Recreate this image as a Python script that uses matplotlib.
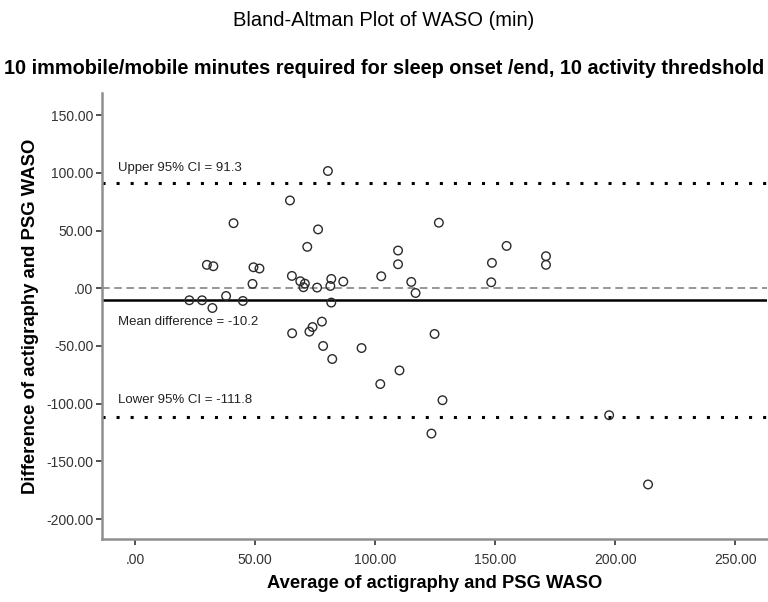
import matplotlib
matplotlib.use("Agg")
import matplotlib.pyplot as plt
from matplotlib.ticker import FuncFormatter

plt.rcParams["font.family"] = ["Liberation Sans", "DejaVu Sans"]

# ── data ──────────────────────────────────────────────────────────────────────
avg_waso = [80.3, 64.5, 41.0, 126.5, 76.2, 71.7, 109.5, 109.5, 29.9, 32.6,
            49.3, 51.8, 65.3, 102.5, 48.9, 68.8, 70.7, 70.1, 75.8, 81.7,
            81.3, 86.7, 115.0, 116.8, 37.9, 22.6, 27.9, 44.9, 32.2, 81.7,
            154.7, 148.6, 171.1, 171.1, 148.3, 65.4, 72.6, 73.9, 77.8, 78.3,
            82.1, 94.3, 110.1, 102.1, 124.7, 128.0, 123.4, 197.4, 213.6]
diff_waso = [101.6, 76.1, 56.4, 56.8, 51.0, 35.9, 32.7, 20.8, 20.3, 19.1,
             18.2, 17.1, 10.7, 10.4, 3.8, 6.1, 4.0, 0.9, 0.6, 8.1,
             2.0, 5.8, 5.5, -4.1, -6.7, -10.4, -10.4, -11.0, -17.1, -12.4,
             36.7, 22.0, 27.8, 20.3, 5.2, -39.0, -37.6, -33.6, -28.9, -50.0,
             -61.3, -51.8, -71.2, -83.0, -39.6, -97.0, -125.9, -110.0, -170.0]

mean_diff = -10.2
upper_ci = 91.3
lower_ci = -111.8

x_ticks = [0, 50, 100, 150, 200, 250]
y_ticks = [150, 100, 50, 0, -50, -100, -150, -200]

title = "Bland-Altman Plot of WASO (min)"
subtitle = "10 immobile/mobile minutes required for sleep onset /end, 10 activity thredshold"


def spss_fmt(v, _pos=None):
    # SPSS style: 0.00 -> .00
    s = f"{v:.2f}"
    if s.startswith("0."):
        s = s[1:]
    return s


fig = plt.figure(figsize=(7.68, 6.02), dpi=100)
ax = fig.add_axes([0.1324, 0.1042, 0.8659, 0.7413])

ax.scatter(avg_waso, diff_waso, s=38, facecolors="none", edgecolors="#2b2b2b",
           linewidths=1.0, zorder=3)

ax.axhline(upper_ci, color="black", lw=2.2, ls=(0, (1, 3.6)), zorder=2)
ax.axhline(lower_ci, color="black", lw=2.2, ls=(0, (1, 3.6)), zorder=2)
ax.axhline(0, color="#7a7a7a", lw=1.1, ls=(0, (5, 3)), zorder=2)
ax.axhline(mean_diff, color="black", lw=1.8, zorder=2)

lab = dict(fontsize=9.5, color="#222222", va="center", ha="left")
ax.annotate(f"Upper 95% CI = {upper_ci}", xy=(-7, upper_ci),
            xytext=(0, 10.5), textcoords="offset points", **lab)
ax.annotate(f"Mean difference = {mean_diff}", xy=(-7, mean_diff),
            xytext=(0, -16), textcoords="offset points", **lab)
ax.annotate(f"Lower 95% CI = {lower_ci}", xy=(-7, lower_ci),
            xytext=(0, 12.5), textcoords="offset points", **lab)

ax.set_xlim(-13.9, 263)
ax.set_ylim(-217.5, 169.2)
ax.set_xticks(x_ticks)
ax.set_yticks(y_ticks)
ax.xaxis.set_major_formatter(FuncFormatter(spss_fmt))
ax.yaxis.set_major_formatter(FuncFormatter(spss_fmt))
ax.tick_params(axis="both", direction="out", length=4, width=1.2,
               color="#333333", labelsize=10, labelcolor="#333333")
ax.tick_params(axis="x", pad=6)
ax.tick_params(axis="y", pad=2)

for side in ("top", "right"):
    ax.spines[side].set_visible(False)
for side in ("left", "bottom"):
    ax.spines[side].set_color("#8f8f8f")
    ax.spines[side].set_linewidth(1.8)

ax.set_xlabel("Average of actigraphy and PSG WASO", fontsize=13.2,
              fontweight="bold", labelpad=6)
ax.set_ylabel("Difference of actigraphy and PSG WASO", fontsize=13.3,
              fontweight="bold", labelpad=5)

fig.text(0.5, 1 - 20 / 602, title, ha="center", va="center", fontsize=14.5)
fig.text(0.5, 1 - 68 / 602, subtitle, ha="center", va="center", fontsize=14.3,
         fontweight="bold")

fig.savefig("out.png", dpi=100)
